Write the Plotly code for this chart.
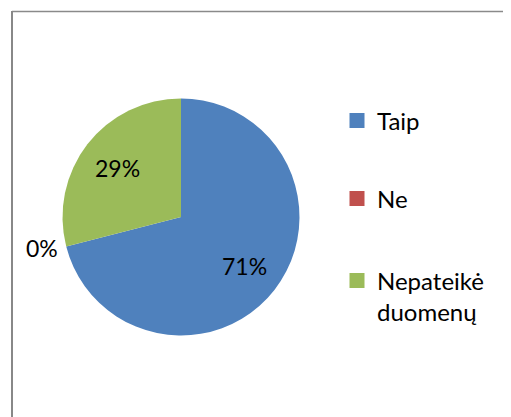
import math
import plotly.graph_objects as go

categories = ["Taip", "Ne", "Nepateikė duomenų"]
legend_labels = ["Taip", "Ne", "Nepateikė<br>duomenų"]
values = [71, 0, 29]
colors = ["#4F81BD", "#C0504D", "#9BBB59"]

W, H = 511, 417
OFF = 8  # page body margin offset in the browser
FONT = "Lato"

# pie geometry (screen px)
CX, CY, R = 181 - OFF, 217 - OFF, 118.5
# legend entry rows (screen px, centre of first text line)
LEG_ROWS = [122, 200, 282]
LEG_X = 337


def px(x):
    return x / W


def py(y):
    return 1 - y / H


fig = go.Figure()
fig.add_trace(go.Pie(
    labels=categories,
    values=values,
    sort=False,
    direction="clockwise",
    rotation=0,
    marker=dict(colors=colors, line=dict(width=0)),
    textinfo="none",
    showlegend=False,
    hoverinfo="label+percent",
    domain=dict(x=[px(CX - R), px(CX + R)], y=[py(CY + R), py(CY - R)]),
))

legends = {}
for i, (name, col) in enumerate(zip(legend_labels, colors)):
    key = "legend" if i == 0 else f"legend{i + 1}"
    fig.add_trace(go.Scatter(
        x=[None], y=[None], mode="markers", name=name,
        marker=dict(symbol="square", size=15, color=col),
        legend=key, showlegend=True,
    ))
    legends[key] = dict(
        x=px(LEG_X - OFF), y=py(LEG_ROWS[i] - 23.5 - OFF),
        xanchor="left", yanchor="top", valign="top",
        bgcolor="rgba(0,0,0,0)",
        font=dict(family=FONT, size=24, color="black"))

# percentage labels placed from the data (Excel-like best fit)
total = sum(values)
annotations = []
cum = 0.0
for v in values:
    frac = v / total
    mid = (cum + frac / 2) * 2 * math.pi
    cum += frac
    label = f"{round(frac * 100):d}%"
    sx, sy = math.sin(mid), -math.cos(mid)
    inside = frac > 0.02
    r = 0.68 * R if inside else 1.05 * R
    annotations.append(dict(
        x=px(CX + sx * r), y=py(CY + sy * r), xref="paper", yref="paper",
        text=label, showarrow=False,
        xanchor="center" if inside else "right", yanchor="middle",
        font=dict(family=FONT, size=23, color="black")))

fig.update_layout(
    width=W, height=H,
    margin=dict(l=0, r=0, t=0, b=0),
    paper_bgcolor="white", plot_bgcolor="white",
    xaxis=dict(visible=False), yaxis=dict(visible=False),
    font=dict(family=FONT, size=24, color="black"),
    annotations=annotations,
    shapes=[
        dict(type="line", xref="paper", yref="paper",
             x0=px(12 - OFF), x1=1.0, y0=py(11.5 - OFF), y1=py(11.5 - OFF),
             line=dict(color="#8a8a8a", width=1.5), layer="below"),
        dict(type="line", xref="paper", yref="paper",
             x0=px(12 - OFF), x1=px(12 - OFF), y0=0, y1=py(11 - OFF),
             line=dict(color="#888888", width=2), layer="below"),
    ],
    **legends,
)

fig.write_html("out.html", config={"displayModeBar": False})
